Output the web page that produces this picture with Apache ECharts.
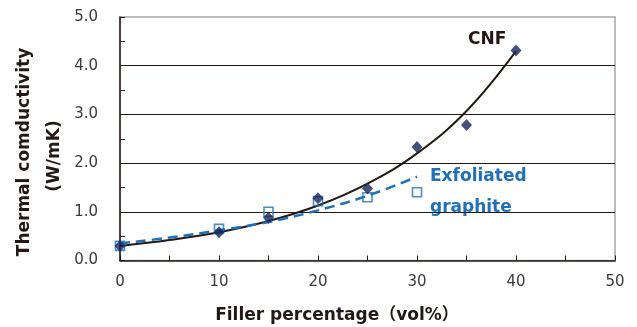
<!DOCTYPE html>
<html><head><meta charset="utf-8">
<script src="https://cdn.jsdelivr.net/npm/echarts@6/dist/echarts.min.js"></script>
<style>html,body{margin:0;padding:0;background:#fff}#c{width:637px;height:327px}</style>
</head><body><div id="c"></div>
<script>
// Measured data
const cnfX = [0, 10, 15, 20, 25, 30, 35, 40];
const cnfY = [0.30, 0.58, 0.88, 1.28, 1.48, 2.33, 2.78, 4.31];
const grX = [0, 10, 15, 20, 25, 30];
const grY = [0.30, 0.65, 1.00, 1.22, 1.30, 1.40];
// Trend curves
const cnfFitX = [0, 5, 10, 15, 20, 25, 30, 35, 40];
const cnfFitY = [0.30, 0.42, 0.58, 0.81, 1.13, 1.58, 2.20, 3.07, 4.30];
const grFitX = [0, 5, 10, 15, 20, 25, 30];
const grFitY = [0.35, 0.47, 0.62, 0.79, 1.03, 1.33, 1.72];
const xTicks = [0, 10, 20, 30, 40, 50];
const yTicks = [0, 1, 2, 3, 4, 5];

const zip = (a, b) => a.map((v, i) => [v, b[i]]);
const FONT = 'DejaVu Sans';
const chart = echarts.init(document.getElementById('c'), null, {renderer: 'canvas'});
chart.setOption({
  animation: false,
  backgroundColor: '#fff',
  grid: {left: 120, right: 22, top: 17, bottom: 66.5, show: true, borderColor: '#a6a6a6', borderWidth: 1.5},
  xAxis: {
    type: 'value', min: xTicks[0], max: xTicks[xTicks.length - 1], interval: 10,
    axisLine: {show: true, onZero: false, lineStyle: {color: '#231815', width: 1.5}},
    axisTick: {show: true, inside: true, length: 5, lineStyle: {color: '#231815'}},
    minorTick: {show: true, splitNumber: 2, length: 5, lineStyle: {color: '#231815'}},
    splitLine: {show: false},
    axisLabel: {fontFamily: FONT, fontSize: 15, color: '#3a3a3a', margin: 14}
  },
  yAxis: {
    type: 'value', min: yTicks[0], max: yTicks[yTicks.length - 1], interval: 1,
    axisLine: {show: true, onZero: false, lineStyle: {color: '#231815', width: 1.5}},
    axisTick: {show: true, inside: true, length: 5, lineStyle: {color: '#231815'}},
    minorTick: {show: true, splitNumber: 2, length: 5, lineStyle: {color: '#231815'}},
    splitLine: {show: true, showMaxLine: false, showMinLine: false, lineStyle: {color: '#231815', width: 1}},
    axisLabel: {fontFamily: FONT, fontSize: 15, color: '#3a3a3a', margin: 22, formatter: v => v.toFixed(1)}
  },
  series: [
    {type: 'line', data: zip(cnfFitX, cnfFitY), smooth: 0.4, showSymbol: false, symbol: 'none',
     lineStyle: {color: '#231815', width: 2}, z: 3},
    {type: 'line', data: zip(grFitX, grFitY), smooth: 0.4, showSymbol: false, symbol: 'none',
     lineStyle: {color: '#1f70b8', width: 2.5, type: [10, 6]}, z: 4},
    {type: 'scatter', data: zip(grX, grY), symbol: 'rect', symbolSize: 9,
     itemStyle: {color: 'rgba(255,255,255,0)', borderColor: '#1f70b8', borderWidth: 1.6}, z: 5},
    {type: 'scatter', data: zip(cnfX, cnfY), symbol: 'diamond', symbolSize: [11, 12],
     itemStyle: {color: '#16245a'}, z: 6}
  ],
  graphic: [
    {type: 'text', left: 468, top: 31, style: {text: 'CNF', font: 'bold 17px "DejaVu Sans"', fill: '#231815'}},
    {type: 'text', left: 430, top: 168, style: {text: 'Exfoliated', font: 'bold 17px "DejaVu Sans"', fill: '#1f70b8'}},
    {type: 'text', left: 430, top: 199, style: {text: 'graphite', font: 'bold 17px "DejaVu Sans"', fill: '#1f70b8'}},
    {type: 'text', x: 25, y: 152, rotation: Math.PI / 2,
     style: {text: 'Thermal comductivity', font: 'bold 17px "DejaVu Sans"', fill: '#231815', align: 'center', verticalAlign: 'middle'}},
    {type: 'text', x: 55, y: 156, rotation: Math.PI / 2,
     style: {text: '(W/mK)', font: 'bold 17px "DejaVu Sans"', fill: '#231815', align: 'center', verticalAlign: 'middle'}},
    {type: 'text', x: 337, y: 316,
     style: {text: 'Filler percentage（vol%）', font: 'bold 17px "DejaVu Sans", "Noto Sans CJK JP"', fill: '#231815', align: 'center', verticalAlign: 'middle'}}
  ]
});
</script></body></html>
